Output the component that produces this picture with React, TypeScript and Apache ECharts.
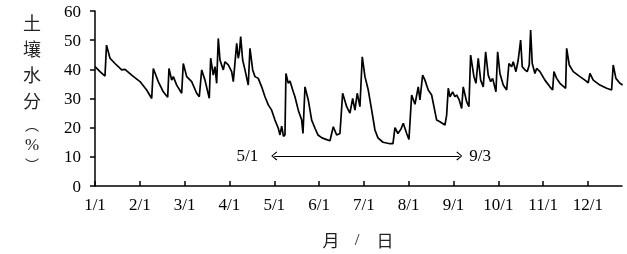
import React, { useEffect, useRef } from "react";
import * as echarts from "echarts";

// x positions in month units (0 = 1/1, 1 = 2/1, ...), soil moisture values in %
const monthPos = [
  0, 0.112, 0.223, 0.257, 0.335, 0.446, 0.596, 0.669, 0.819, 1.004, 1.153, 1.265, 1.301, 1.412, 1.524, 1.622,
  1.651, 1.711, 1.747, 1.823, 1.934, 1.97, 2.046, 2.157, 2.269, 2.327, 2.381, 2.454, 2.55, 2.581, 2.639, 2.677,
  2.715, 2.751, 2.789, 2.863, 2.9, 2.974, 3.05, 3.086, 3.162, 3.197, 3.224, 3.251, 3.295, 3.347, 3.42, 3.458,
  3.519, 3.57, 3.643, 3.719, 3.793, 3.867, 3.942, 4.016, 4.09, 4.128, 4.166, 4.206, 4.239, 4.261, 4.313, 4.351,
  4.424, 4.462, 4.536, 4.612, 4.641, 4.686, 4.759, 4.835, 4.909, 4.975, 5.065, 5.154, 5.243, 5.317, 5.393, 5.466,
  5.526, 5.616, 5.689, 5.75, 5.801, 5.852, 5.912, 5.964, 6.024, 6.098, 6.174, 6.247, 6.314, 6.426, 6.582, 6.649,
  6.694, 6.76, 6.827, 6.879, 6.955, 7.006, 7.066, 7.14, 7.213, 7.251, 7.311, 7.363, 7.436, 7.512, 7.586, 7.624,
  7.697, 7.809, 7.847, 7.883, 7.921, 7.981, 8.032, 8.07, 8.128, 8.182, 8.217, 8.293, 8.344, 8.382, 8.456, 8.501,
  8.552, 8.606, 8.664, 8.717, 8.775, 8.829, 8.873, 8.947, 8.985, 9.036, 9.11, 9.186, 9.237, 9.297, 9.333, 9.393,
  9.444, 9.498, 9.534, 9.594, 9.645, 9.69, 9.721, 9.757, 9.817, 9.855, 9.929, 10.04, 10.152, 10.212, 10.241, 10.301,
  10.375, 10.502, 10.525, 10.583, 10.672, 10.821, 10.933, 11.006, 11.044, 11.118, 11.267, 11.417, 11.528, 11.564,
  11.624, 11.713, 11.774,
];
const moisture = [
  40.9, 39.2, 37.7, 48.3, 43.8, 42, 39.8, 40, 38, 35.8, 32.9, 30, 40.3, 35.8, 32.3, 30.4,
  40.3, 36.3, 37.5, 34.6, 31.8, 42, 37.5, 35.8, 31.8, 30.6, 39.8, 36.3, 30.1, 43.8, 38, 40.9,
  35.2, 50.6, 43.2, 39.8, 42.6, 41.5, 39.2, 35.8, 48.9, 43.8, 46, 51.2, 43.2, 39.8, 34.6, 47.2,
  39.8, 37.5, 36.9, 34, 30.6, 27.8, 26, 22.6, 19.8, 17.5, 20.5, 17, 17.5, 38.6, 35.2, 36,
  32.3, 30.6, 26, 22.6, 18, 34, 29.5, 22.6, 19.8, 17.5, 16.5, 16, 15.5, 20.3, 17.5, 18,
  31.8, 27.2, 25, 30, 26, 31.8, 27.2, 44.3, 37.5, 32.9, 26, 19.2, 16.5, 15, 14.5, 14.5,
  20, 18, 19.5, 21.5, 18, 16, 31.2, 28, 34, 29.5, 38, 36.3, 32.9, 31.2, 25.5, 22.6,
  22, 20.9, 24.3, 33.5, 30.6, 32.3, 30.6, 31.2, 29.5, 26.6, 34, 28.9, 27.2, 44.9, 37.5, 35.2,
  43.8, 36.3, 34, 46, 38, 35.8, 36.9, 32.3, 46, 38.6, 34.6, 32.9, 42, 40.9, 42.6, 39.2,
  43.2, 50, 40.9, 39.8, 39.2, 41.5, 53.5, 42, 38.6, 40.3, 39.2, 36.3, 34, 32.9, 39.2, 36.9,
  35.2, 33.5, 47.2, 41.5, 39.2, 37.5, 36.3, 35.4, 38.6, 36.3, 34.6, 33.5, 32.9, 41.5,
  36.9, 35.2, 34.6,
];
const monthLabels = ["1/1", "2/1", "3/1", "4/1", "5/1", "6/1", "7/1", "8/1", "9/1", "10/1", "11/1", "12/1"];
const yTicks = { min: 0, max: 60, interval: 10 };
const arrowStart = { pos: 4.0, value: 10.3, label: "5/1" };
const arrowEnd = { pos: 8.13, value: 10.3, label: "9/3" };
const yTitleChars = ["土", "壤", "水", "分", "︵", "%", "︶"];
const xTitleParts = ["月", "/", "日"];

const SERIF = "'Liberation Serif', 'Times New Roman', serif";
const CJK = "'Noto Sans CJK SC', sans-serif";

export default function App() {
  const ref = useRef<HTMLDivElement>(null);
  useEffect(() => {
    if (!ref.current) return;
    const chart = echarts.init(ref.current, undefined, { renderer: "svg" });
    const chevron = "path://M5,0 L10,6 L9,7 L5,1.6 L1,7 L0,6 Z";
    const yTitleY = [22, 48, 74, 100, 124, 144, 164];
    const yTitleFont = (c: string) =>
      c === "%" ? `17px ${SERIF}` : c === "︵" || c === "︶" ? `14px ${CJK}` : `18px ${CJK}`;
    const xTitleX = [331, 357, 385];
    chart.setOption({
      animation: false,
      grid: { left: 95, right: 5, top: 11, bottom: 68 },
      xAxis: {
        type: "value",
        min: 0,
        max: 11.76,
        interval: 1,
        splitLine: { show: false },
        axisLine: { lineStyle: { color: "#000", width: 1.5 } },
        axisTick: { inside: true, length: 5, lineStyle: { color: "#000", width: 1.5 } },
        axisLabel: {
          color: "#000",
          fontFamily: SERIF,
          fontSize: 17,
          margin: 10,
          showMaxLabel: false,
          formatter: (v: number) => (Number.isInteger(v) ? monthLabels[v] ?? "" : ""),
        },
      },
      yAxis: {
        type: "value",
        min: yTicks.min,
        max: yTicks.max,
        interval: yTicks.interval,
        splitLine: { show: false },
        axisLine: { show: true, lineStyle: { color: "#000", width: 1.5 } },
        axisTick: { show: true, length: 5, lineStyle: { color: "#000", width: 1.5 } },
        axisLabel: { color: "#000", fontFamily: SERIF, fontSize: 17, margin: 14 },
      },
      series: [
        {
          type: "line",
          data: monthPos.map((x, i) => [x, moisture[i]]),
          showSymbol: false,
          symbol: "none",
          lineStyle: { color: "#000", width: 1.7 },
          markLine: {
            silent: true,
            symbol: [chevron, chevron],
            symbolSize: [9, 6],
            lineStyle: { color: "#000", width: 1.2, type: "solid" },
            label: { show: false },
            data: [
              [
                { coord: [arrowStart.pos, arrowStart.value] },
                { coord: [arrowEnd.pos, arrowEnd.value] },
              ],
            ],
          },
          markPoint: {
            silent: true,
            symbol: "circle",
            symbolSize: 0,
            label: { show: true, color: "#000", fontFamily: SERIF, fontSize: 17 },
            data: [
              {
                coord: [arrowStart.pos, arrowStart.value],
                label: { formatter: arrowStart.label, position: "left", distance: 16 },
              },
              {
                coord: [arrowEnd.pos, arrowEnd.value],
                label: { formatter: arrowEnd.label, position: "right", distance: 10 },
              },
            ],
          },
        },
      ],
      graphic: [
        ...yTitleChars.map((c, i) => ({
          type: "text",
          x: 32,
          y: yTitleY[i],
          style: {
            text: c,
            fill: "#222",
            font: yTitleFont(c),
            align: "center",
            verticalAlign: "middle",
          },
        })),
        ...xTitleParts.map((c, i) => ({
          type: "text",
          x: xTitleX[i],
          y: 239,
          style: {
            text: c,
            fill: "#222",
            font: `17px ${c === "/" ? SERIF : CJK}`,
            align: "center",
            verticalAlign: "middle",
          },
        })),
      ],
    });
    return () => chart.dispose();
  }, []);
  return <div ref={ref} style={{ position: "fixed", left: 0, top: 0, width: 627, height: 254 }} />;
}
